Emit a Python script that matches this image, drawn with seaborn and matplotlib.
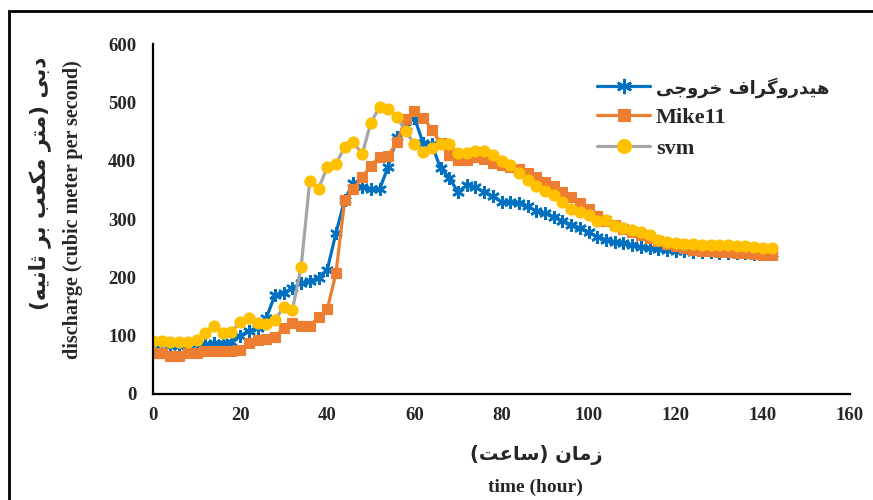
import numpy as np
import pandas as pd
import matplotlib
matplotlib.use("Agg")
import matplotlib.pyplot as plt
import seaborn as sns
from matplotlib.patches import Rectangle
from matplotlib.lines import Line2D

# -----------------------------
# Data
# -----------------------------
hours = list(range(0, 144, 2))

observed = [85, 85, 83, 83, 84, 85, 86, 87, 88, 90,
            100, 108, 113, 130, 170, 173, 182, 190, 194, 199,
            213, 276, 333, 362, 355, 351, 351, 390, 440, 460,
            474, 430, 428, 387, 371, 346, 358, 355, 346, 339,
            329, 329, 328, 322, 313, 310, 304, 297, 290, 284,
            277, 270, 264, 261, 259, 255, 252, 250, 248, 247,
            246, 245, 244, 243, 243, 242, 242, 241, 241, 240,
            240, 240]

mike11 = [70, 70, 65, 66, 70, 71, 73, 73, 73, 73,
          76, 87, 93, 94, 98, 113, 121, 117, 117, 132,
          145, 207, 332, 351, 372, 391, 407, 408, 432, 471,
          486, 474, 453, 430, 410, 401, 402, 406, 403, 396,
          392, 390, 385, 379, 372, 364, 356, 347, 338, 328,
          318, 306, 297, 290, 283, 277, 272, 268, 262, 257,
          254, 250, 247, 246, 245, 244, 243, 242, 241, 240,
          239, 238]

svm = [91, 91, 90, 89, 89, 92, 105, 117, 105, 107,
       123, 131, 121, 120, 127, 149, 144, 218, 366, 352,
       389, 395, 423, 432, 411, 465, 492, 489, 475, 451,
       428, 415, 421, 428, 428, 414, 414, 416, 416, 410,
       400, 392, 379, 367, 357, 348, 341, 329, 317, 312,
       307, 296, 298, 288, 285, 281, 278, 273, 264, 261,
       259, 258, 257, 256, 256, 255, 255, 254, 253, 252,
       251, 250]

series_names = ["هیدروگراف خروجی", "Mike11", "svm"]
line_colors = ["#0070C0", "#ED7D31", "#A5A5A5"]
marker_colors = ["#0070C0", "#ED7D31", "#FFC000"]

x_ticks = [0, 20, 40, 60, 80, 100, 120, 140, 160]
y_ticks = [0, 100, 200, 300, 400, 500, 600]

ylabel_fa = "دبی (متر مکعب بر ثانیه)"
ylabel_en = "discharge (cubic meter per second)"
xlabel_fa = "زمان (ساعت)"
xlabel_en = "time (hour)"

# -----------------------------
# Persian shaping (matplotlib has no bidi / joining)
# -----------------------------
FORMS = {
    "ا": (0xFE8D, 0xFE8E), "د": (0xFEA9, 0xFEAA), "ر": (0xFEAD, 0xFEAE),
    "ز": (0xFEAF, 0xFEB0), "و": (0xFEED, 0xFEEE),
    "ب": (0xFE8F, 0xFE90, 0xFE91, 0xFE92), "ت": (0xFE95, 0xFE96, 0xFE97, 0xFE98),
    "ث": (0xFE99, 0xFE9A, 0xFE9B, 0xFE9C), "ج": (0xFE9D, 0xFE9E, 0xFE9F, 0xFEA0),
    "خ": (0xFEA5, 0xFEA6, 0xFEA7, 0xFEA8), "س": (0xFEB1, 0xFEB2, 0xFEB3, 0xFEB4),
    "ع": (0xFEC9, 0xFECA, 0xFECB, 0xFECC), "ف": (0xFED1, 0xFED2, 0xFED3, 0xFED4),
    "م": (0xFEE1, 0xFEE2, 0xFEE3, 0xFEE4), "ن": (0xFEE5, 0xFEE6, 0xFEE7, 0xFEE8),
    "ه": (0xFEE9, 0xFEEA, 0xFEEB, 0xFEEC), "ی": (0xFBFC, 0xFBFD, 0xFBFE, 0xFBFF),
    "ک": (0xFB8E, 0xFB8F, 0xFB90, 0xFB91), "گ": (0xFB92, 0xFB93, 0xFB94, 0xFB95),
}


def shape(s):
    out = []
    for i, c in enumerate(s):
        if c not in FORMS:
            out.append(c)
            continue
        f = FORMS[c]
        prev = s[i - 1] if i > 0 else ""
        nxt = s[i + 1] if i + 1 < len(s) else ""
        jp = prev in FORMS and len(FORMS[prev]) == 4
        jn = len(f) == 4 and nxt in FORMS
        k = 3 if (jp and jn) else 1 if jp else 2 if jn else 0
        out.append(chr(f[k]))
    mirror = {"(": ")", ")": "("}
    return "".join(mirror.get(c, c) for c in reversed(out))


# -----------------------------
# Long table for seaborn
# -----------------------------
df = pd.DataFrame({
    "hour": hours * 3,
    "discharge": observed + mike11 + svm,
    "series": [series_names[0]] * len(hours)
              + [series_names[1]] * len(hours)
              + [series_names[2]] * len(hours),
})

sns.set_theme(style="white")
plt.rcParams["font.family"] = ["Liberation Serif", "DejaVu Sans"]

fig = plt.figure(figsize=(8.73, 5.0), dpi=100)
ax = fig.add_axes([153 / 873, 1 - 394 / 500, (850 - 153) / 873, 350 / 500])

markers = [(6, 2, 0), "s", "o"]
msizes = [9, 7, 8]
for name, lc, mc, mk, ms in zip(series_names, line_colors, marker_colors, markers, msizes):
    sns.lineplot(
        data=df[df["series"] == name], x="hour", y="discharge",
        color=lc, linewidth=2.3, marker=mk, markersize=ms,
        markerfacecolor=mc, markeredgecolor=mc, markeredgewidth=1.8 if mk == (6, 2, 0) else 0.8,
        ax=ax, legend=False,
    )

ax.set_xlim(0, 160)
ax.set_ylim(0, 600)
ax.set_xticks(x_ticks)
ax.set_yticks(y_ticks)
ax.set_xticklabels([str(t) for t in x_ticks], fontsize=13.5, fontweight="bold")
ax.set_yticklabels([str(t) for t in y_ticks], fontsize=13.5, fontweight="bold")
ax.tick_params(axis="x", length=0, pad=9)
ax.tick_params(axis="y", length=0, pad=12)
ax.set_xlabel("")
ax.set_ylabel("")
for side in ["top", "right"]:
    ax.spines[side].set_visible(False)
for side in ["left", "bottom"]:
    ax.spines[side].set_color("black")
    ax.spines[side].set_linewidth(1.6)
ax.grid(False)

# Legend
handles = [
    Line2D([], [], color=lc, linewidth=2.3, marker=mk, markersize=ms + 2,
           markerfacecolor=mc, markeredgecolor=mc,
           markeredgewidth=1.8 if mk == (6, 2, 0) else 0.8)
    for lc, mc, mk, ms in zip(line_colors, marker_colors, markers, msizes)
]
leg = ax.legend(
    handles, [shape(series_names[0]), series_names[1], series_names[2]],
    loc="upper left", bbox_to_anchor=((597 - 153) / 697, (394 - 77) / 350),
    frameon=False, handlelength=2.4, handletextpad=0.25, labelspacing=0.45,
    borderaxespad=0, borderpad=0,
    prop={"family": ["Liberation Serif", "DejaVu Sans"], "weight": "bold", "size": 16},
)
leg.get_texts()[0].set_fontsize(13)
leg.get_texts()[0].set_family(["DejaVu Sans"])

# Axis titles (two lines each, Persian + English)
fig.text(40 / 873, 1 - 183 / 500, shape(ylabel_fa), rotation=90, ha="center", va="center",
         fontsize=15.5, fontweight="bold", family=["DejaVu Sans"])
fig.text(73 / 873, 1 - 210 / 500, ylabel_en, rotation=90, ha="center", va="center",
         fontsize=14.5, fontweight="bold", family=["Liberation Serif"])
fig.text(536 / 873, 1 - 455 / 500, shape(xlabel_fa), ha="center", va="center",
         fontsize=14, fontweight="bold", family=["DejaVu Sans"])
fig.text(535 / 873, 1 - 487 / 500, xlabel_en, ha="center", va="center",
         fontsize=14, fontweight="bold", family=["Liberation Serif"])

# outer chart border (only left / top edges fall inside the picture)
fig.patches.append(Rectangle((9 / 873, -0.1), 1.2, 1.1 - 11 / 500, transform=fig.transFigure,
                             fill=False, edgecolor="black", linewidth=2.0))

plt.savefig("out.png", dpi=100)
plt.close()
